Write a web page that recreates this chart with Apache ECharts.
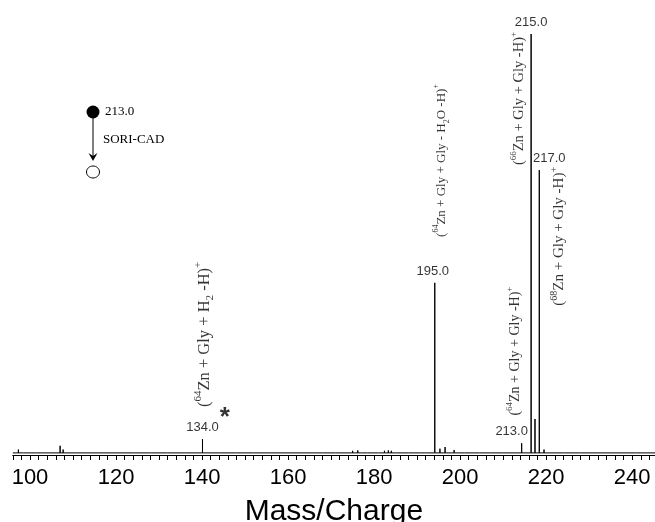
<!DOCTYPE html>
<html>
<head>
<meta charset="utf-8">
<script src="https://cdn.jsdelivr.net/npm/echarts@6/dist/echarts.min.js"></script>
<style>
  html, body { margin: 0; padding: 0; background: #ffffff; }
  #chart { width: 655px; height: 522px; }
</style>
</head>
<body>
<div id="chart"></div>
<script>
// ---- Data ----
const massValues = [
  97.3, 98.5, 100.2, 101.5, 103.0, 104.6, 105.8, 107.0, 107.7, 110.5,
  113.0, 116.0, 120.0, 124.0, 128.0, 132.0, 136.0, 140.1, 144.0, 148.0,
  152.0, 156.0, 160.0, 163.0, 166.0, 168.0, 171.0, 173.5, 175.0, 176.2,
  177.0, 178.5, 181.0, 182.4, 183.3, 184.0, 185.2, 186.5, 188.0, 190.5,
  192.0, 194.1, 195.3, 196.5, 198.6, 201.0, 203.0, 204.5, 207.0, 210.0,
  214.3, 216.5, 217.4, 218.4, 219.5, 224.0, 228.0, 232.0, 236.0, 241.0
];
const intensityValues = [
  0.8, 0.3, 0.3, 0.2, 0.3, 0.3, 0.4, 1.7, 0.8, 0.2,
  0.2, 0.2, 0.2, 0.2, 0.2, 0.2, 0.2, 3.3, 0.2, 0.2,
  0.2, 0.2, 0.2, 0.2, 0.3, 0.3, 0.3, 0.4, 0.5, 0.6,
  0.4, 0.3, 0.3, 0.5, 0.6, 0.5, 0.4, 0.3, 0.2, 0.4,
  0.2, 40.6, 1.0, 1.4, 0.7, 0.3, 0.3, 0.2, 0.2, 0.2,
  2.3, 100.0, 8.1, 67.5, 0.8, 0.2, 0.3, 0.2, 0.2, 0.2
];
const peakLabelMass = [140.1, 194.1, 214.3, 216.5, 218.4];
const peakLabelText = ['134.0', '195.0', '213.0', '215.0', '217.0'];
const xTickLabels = [100, 120, 140, 160, 180, 200, 220, 240];

const assignTexts = [
  '{m|(}{s|64}{m|Zn + Gly + H}{b|2}{m| -H)}{s|+}',
  '{m|(}{s|64}{m|Zn + Gly + Gly - H}{b|2}{m|O -H)}{s|+}',
  '{m|(}{s|66}{m|Zn + Gly + Gly -H)}{s|+}',
  '{m|(}{s|64}{m|Zn + Gly + Gly -H)}{s|+}',
  '{m|(}{s|68}{m|Zn + Gly + Gly -H)}{s|+}'
];

// ---- Build stick spectrum ----
const stickData = [[96, 0]];
for (let i = 0; i < massValues.length; i++) {
  stickData.push([massValues[i], 0]);
  stickData.push([massValues[i], intensityValues[i]]);
  stickData.push([massValues[i], 0]);
}
stickData.push([245.3, 0]);

const labelOffsets = { '213.0': [-10, 0], '217.0': [10, 0], '195.0': [-2, 0] };
const peakLabelData = peakLabelMass.map((m, i) => {
  const h = intensityValues[massValues.indexOf(m)];
  return {
    value: [m, h],
    label: { formatter: peakLabelText[i], offset: labelOffsets[peakLabelText[i]] || [0, 0] }
  };
});

// annotation anchors (data coordinates) and per-annotation font sizes
const assignAnchors = [[140.5, 28.3], [195.6, 69.8], [213.7, 84.6], [212.9, 24.3], [223.1, 51.7]];
const assignSizes = [16.5, 13, 14.5, 14, 15];

const serif = 'Liberation Serif';
const sans = 'Liberation Sans';

function richFor(size) {
  const sub = Math.round(size * 0.64);
  return {
    m: { fontFamily: serif, fontSize: size, lineHeight: size + 6, color: '#000', verticalAlign: 'middle' },
    s: { fontFamily: serif, fontSize: sub, lineHeight: sub + 1, color: '#000', verticalAlign: 'top' },
    b: { fontFamily: serif, fontSize: sub, lineHeight: sub + 1, color: '#000', verticalAlign: 'bottom' }
  };
}
const assignData = assignTexts.map((t, i) => ({
  value: assignAnchors[i],
  label: { formatter: t, rich: richFor(assignSizes[i]) }
}));

const chart = echarts.init(document.getElementById('chart'), null, { renderer: 'canvas' });
chart.setOption({
  animation: false,
  backgroundColor: '#ffffff',
  grid: { left: 12.8, right: 0, top: 34, bottom: 67, containLabel: false, outerBoundsMode: 'none' },
  xAxis: {
    type: 'value', min: 96, max: 245.3, interval: 2,
    name: 'Mass/Charge', nameLocation: 'middle', nameGap: 42,
    nameTextStyle: { fontFamily: sans, fontSize: 30, color: '#000' },
    axisLine: { onZero: false, lineStyle: { color: '#000', width: 1.2 } },
    axisTick: { show: true, length: 5, lineStyle: { color: '#000', width: 1 } },
    axisLabel: {
      margin: 12, fontFamily: sans, fontSize: 22, color: '#000',
      showMinLabel: true, showMaxLabel: true,
      formatter: v => xTickLabels.some(t => Math.abs(t - v) < 1e-6) ? String(Math.round(v)) : ''
    },
    splitLine: { show: false }
  },
  yAxis: { type: 'value', min: -0.5, max: 100, show: false },
  series: [
    {
      type: 'line', data: stickData, symbol: 'none', silent: true,
      lineStyle: { color: '#000', width: 1 }
    },
    {
      type: 'scatter', data: peakLabelData, symbolSize: 0, silent: true,
      label: { show: true, position: 'top', distance: 5, fontFamily: sans, fontSize: 13, color: '#000' }
    },
    {
      type: 'scatter', data: assignData, symbolSize: 0, silent: true,
      label: { show: true, position: 'inside', rotate: 90, color: '#000' }
    },
    {
      type: 'scatter', data: [[145.3, 9.9]], symbolSize: 0, silent: true,
      label: { show: true, position: 'inside', formatter: '*', fontFamily: sans, fontWeight: 'bold', fontSize: 26, color: '#000', offset: [0, 6] }
    }
  ],
  graphic: [
    { type: 'circle', shape: { cx: 93, cy: 112, r: 6.5 }, style: { fill: '#000' } },
    { type: 'text', x: 105, y: 112, style: { text: '213.0', font: '13px "Liberation Serif"', fill: '#000', verticalAlign: 'middle' } },
    { type: 'line', shape: { x1: 93, y1: 118, x2: 93, y2: 157 }, style: { stroke: '#000', lineWidth: 1 } },
    { type: 'polygon', shape: { points: [[88.5, 153], [93, 161], [97.5, 153], [93, 156]] }, style: { fill: '#000' } },
    { type: 'text', x: 103, y: 140, style: { text: 'SORI-CAD', font: '13px "Liberation Serif"', fill: '#000', verticalAlign: 'middle' } },
    { type: 'ellipse', shape: { cx: 93, cy: 172, rx: 6.5, ry: 6 }, style: { fill: '#fff', stroke: '#000', lineWidth: 1 } }
  ]
});
</script>
</body>
</html>
